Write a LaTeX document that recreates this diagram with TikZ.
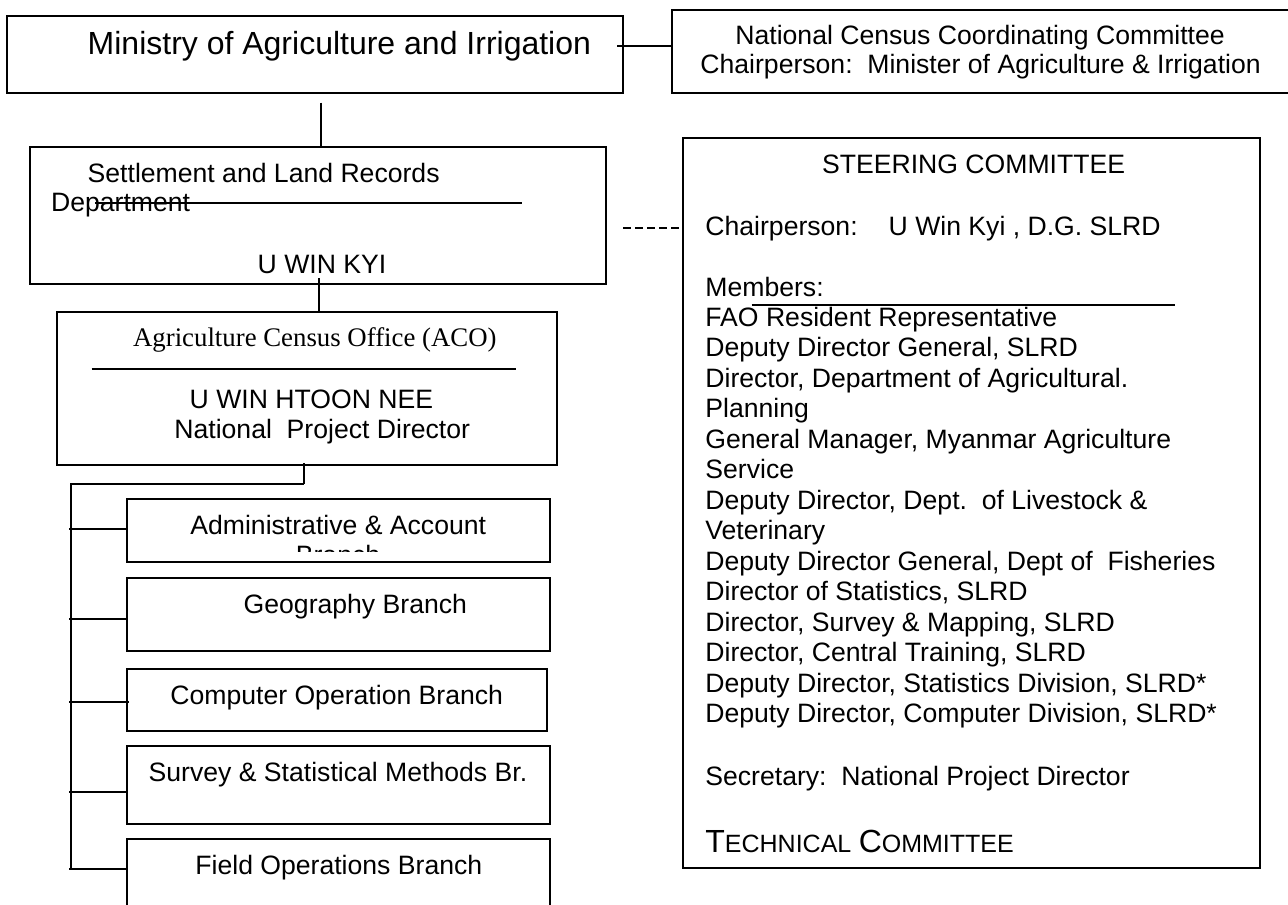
\documentclass[tikz,border=0pt]{standalone}
\usepackage{fontspec}
\setmainfont{Liberation Sans}
\newfontfamily\serifx{Liberation Serif}
\usetikzlibrary{fit}
\tikzset{
  box/.style={draw, line width=0.9pt, inner sep=0pt},
  txt/.style={inner sep=0pt, anchor=base west, font=\fontsize{13.3}{15.25}\selectfont},
  ctxt/.style={inner sep=0pt, anchor=base, font=\fontsize{13.3}{15.25}\selectfont},
  big/.style={inner sep=0pt, anchor=base west, font=\fontsize{16}{19}\selectfont},
  conn/.style={line width=0.9pt},
  dconn/.style={line width=0.9pt, dash pattern=on 4pt off 2pt},
}
\begin{document}
\begin{tikzpicture}[x=0.5pt,y=-0.5pt]
\useasboundingbox (0,0) rectangle (1288,904);
% top row
\node[box, fit={(7.3,16) (622.7,92.7)}] (min) {};
\node[big] (mint) at (87.3,55) {Ministry of Agriculture and Irrigation};
\node[box, fit={(671.7,10) (1295,92.7)}] (ncc) {};
\node[txt] (ncc1) at (735,45) {National Census Coordinating Committee};
\node[txt] (ncc2) at (700,74) {Chairperson:\ \ Minister of Agriculture \& Irrigation};
\coordinate (c1) at (617.3,45.7);
\draw[conn] (c1) -- (c1 -| ncc.west);
% settlement
\node[box, fit={(30,146.7) (605.7,284)}] (sett) {};
\node[txt] (sett1) at (87.3,182.7) {Settlement and Land Records};
\node[txt] (sett2) at (50.7,211.7) {Department};
\coordinate (sl1) at (95,202.7);
\coordinate (sl2) at (522,202.7);
\draw[conn] (sl1) -- (sl2);
\node[txt] (sett3) at (257.3,273.3) {U WIN KYI};
\coordinate (c2) at (321,102.7);
\draw[conn] (c2) -- (c2 |- sett.north);
% ACO
\node[box, fit={(57.3,311.7) (557,465)}] (aco) {};
\node[txt, font=\serifx\fontsize{13.4}{15.25}\selectfont] (aco1) at (132.7,346.7) {Agriculture Census Office (ACO)};
\coordinate (al1) at (91.7,369.3);
\coordinate (al2) at (515.6,369.3);
\draw[conn] (al1) -- (al2);
\node[txt] (aco2) at (189.3,408.3) {U WIN HTOON NEE};
\node[txt] (aco3) at (174,438.3) {National\ \ Project Director};
\coordinate (c3) at (319,278.3);
\draw[conn] (c3) -- (c3 |- aco.north);
% steering committee
\node[box, fit={(683.3,138.3) (1260.3,868.3)}] (steer) {};
\node[txt] (st0) at (821.7,173.7) {STEERING COMMITTEE};
\node[txt] (st1) at (705,235) {Chairperson:\hspace{15.5pt}U Win Kyi , D.G. SLRD};
\node[txt] (st2) at (705,296.7) {Members:};
\coordinate (ml1) at (751.7,305);
\coordinate (ml2) at (1174.6,305);
\draw[conn] (ml1) -- (ml2);
\foreach \t [count=\i] in {FAO Resident Representative,
  {Deputy Director General, SLRD},
  {Director, Department of Agricultural.},
  Planning,
  {General Manager, Myanmar Agriculture},
  Service,
  {Deputy Director, Dept.\ \ of Livestock \&},
  Veterinary,
  {Deputy Director General, Dept of\ \ Fisheries},
  {Director of Statistics, SLRD},
  {Director, Survey \& Mapping, SLRD},
  {Director, Central Training, SLRD},
  {Deputy Director, Statistics Division, SLRD*},
  {Deputy Director, Computer Division, SLRD*}}
  \node[txt] (mem\i) at (705,{326+30.5*(\i-1)}) {\t};
\node[txt] (st3) at (705,785) {Secretary:\ \ National Project Director};
\node[txt] (st4) at (705,852.7) {{\fontsize{16}{19}\selectfont T}{\fontsize{12.5}{15}\selectfont ECHNICAL} {\fontsize{16}{19}\selectfont C}{\fontsize{12.5}{15}\selectfont OMMITTEE}};
\coordinate (d1) at (623.3,228.3);
\draw[dconn] (d1) -- (d1 -| steer.west);
% branches
\node[box, fit={(126.7,499) (550,561.7)}] (b1) {};
\node[txt] (b1t) at (190,534) {Administrative \& Account};
\begin{scope}
  \clip (126.7,499) rectangle (550,551.7);
  \node[ctxt] (b1u) at (338,564.5) {Branch};
\end{scope}
\node[box, fit={(126.7,578.3) (550,650.7)}] (b2) {};
\node[txt] (b2t) at (243.3,613.3) {Geography Branch};
\node[box, fit={(126.7,669) (547.3,731)}] (b3) {};
\node[txt] (b3t) at (170,704) {Computer Operation Branch};
\node[box, fit={(126.7,746) (550,824)}] (b4) {};
\node[txt] (b4t) at (148.3,781.7) {Survey \& Statistical Methods Br.};
\node[box, fit={(126.7,839.3) (550,915)}] (b5) {};
\node[txt] (b5t) at (195,874) {Field Operations Branch};
% bus
\coordinate (c4) at (304,463);
\coordinate (bj) at (304,484.3);
\coordinate (btop) at (71,484.3);
\coordinate (bbot) at (71,870);
\draw[conn] (c4) -- (bj);
\draw[conn] (bj) -- (btop) -- (bbot);
\coordinate (k1) at (69,529);
\coordinate (k2) at (69,619);
\coordinate (k3) at (69,701.7);
\coordinate (k4) at (69,791.7);
\coordinate (k5) at (69,869);
\draw[conn] (k1) -- (k1 -| b1.west);
\draw[conn] (k2) -- (k2 -| b2.west);
\draw[conn] (k3) -- ([xshift=1.5pt]k3 -| b3.west);
\draw[conn] (k4) -- (k4 -| b4.west);
\draw[conn] (k5) -- (k5 -| b5.west);
\end{tikzpicture}
\end{document}
